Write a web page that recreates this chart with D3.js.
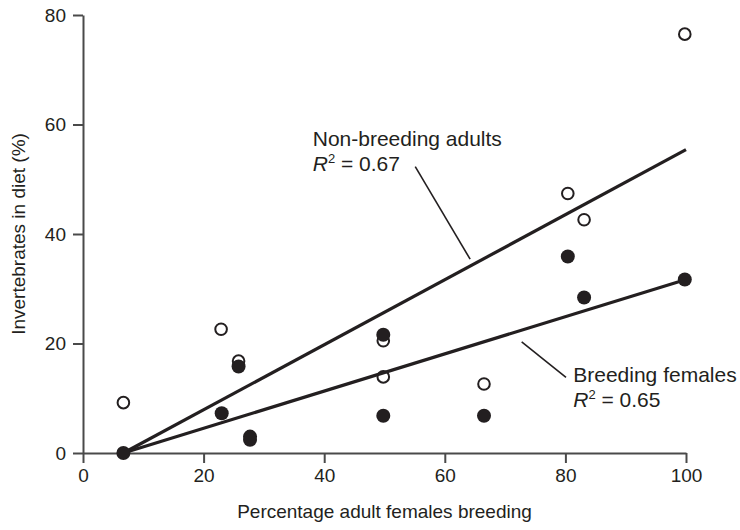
<!DOCTYPE html>
<html>
<head>
<meta charset="utf-8">
<script src="https://cdn.jsdelivr.net/npm/d3@7"></script>
<style>
  body { margin: 0; background: #fff; }
  text { font-family: "Liberation Sans", Arial, sans-serif; fill: #231f20; }
</style>
</head>
<body>
<div id="chart"></div>
<script>
// values
const nonBreedingX = [6.7, 22.9, 25.8, 49.8, 49.8, 66.5, 80.4, 83.1, 99.8]
const nonBreedingY = [9.2, 22.6, 16.8, 20.5, 13.9, 12.6, 47.4, 42.6, 76.5]
const breedingX = [6.7, 23.0, 25.8, 27.7, 27.7, 49.8, 49.8, 66.5, 80.4, 83.1, 99.8]
const breedingY = [0, 7.25, 15.8, 3.0, 2.4, 21.6, 6.8, 6.8, 35.9, 28.4, 31.7]
// regression lines (start and end)
const fitX = [6.7, 100]
const fitNonBreedingY = [0, 55.4]
const fitBreedingY = [0, 31.7]
const xTicks = [0, 20, 40, 60, 80, 100]
const yTicks = [0, 20, 40, 60, 80]

const width = 740, height = 530
const margin = { top: 15, right: 54, bottom: 77, left: 83 }
const ink = "#231f20"

const svg = d3.select("#chart").append("svg")
    .attr("width", width)
    .attr("height", height)

const x = d3.scaleLinear().domain([0, 100]).range([margin.left, width - margin.right])
const y = d3.scaleLinear().domain([0, 80]).range([height - margin.bottom, margin.top])

// axes
const xAxis = svg.append("g")
    .attr("transform", "translate(0," + y(0) + ")")
    .call(d3.axisBottom(x).tickValues(xTicks).tickSize(10).tickSizeOuter(0).tickPadding(6))
const yAxis = svg.append("g")
    .attr("transform", "translate(" + x(0) + ",0)")
    .call(d3.axisLeft(y).tickValues(yTicks).tickSize(10).tickSizeOuter(0).tickPadding(7))

for (const ax of [xAxis, yAxis]) {
    ax.select(".domain").attr("stroke", "#4a4a4a").attr("stroke-width", 2)
    ax.selectAll(".tick line").attr("stroke", "#4a4a4a").attr("stroke-width", 2)
    ax.selectAll(".tick text").attr("font-size", 19).attr("fill", ink)
        .attr("font-family", "Liberation Sans, Arial, sans-serif")
}

svg.append("text")
    .attr("x", (x(0) + x(100)) / 2)
    .attr("y", 518)
    .attr("text-anchor", "middle")
    .attr("font-size", 19)
    .text("Percentage adult females breeding")

svg.append("text")
    .attr("transform", "translate(25," + (y(0) + y(80)) / 2 + ") rotate(-90)")
    .attr("text-anchor", "middle")
    .attr("font-size", 19)
    .text("Invertebrates in diet (%)")

// open circles: non-breeding adults
svg.selectAll(".open").data(nonBreedingX).enter().append("circle")
    .attr("class", "open")
    .attr("cx", d => x(d))
    .attr("cy", (d, i) => y(nonBreedingY[i]))
    .attr("r", 5.8)
    .attr("fill", "#fff")
    .attr("stroke", ink)
    .attr("stroke-width", 2)

// fitted lines
const line = d3.line().x(d => x(d[0])).y(d => y(d[1]))
svg.append("path")
    .attr("d", line(fitX.map((v, i) => [v, fitNonBreedingY[i]])))
    .attr("fill", "none").attr("stroke", ink).attr("stroke-width", 3.2)
svg.append("path")
    .attr("d", line(fitX.map((v, i) => [v, fitBreedingY[i]])))
    .attr("fill", "none").attr("stroke", ink).attr("stroke-width", 3.2)

// filled circles: breeding females
svg.selectAll(".filled").data(breedingX).enter().append("circle")
    .attr("class", "filled")
    .attr("cx", d => x(d))
    .attr("cy", (d, i) => y(breedingY[i]))
    .attr("r", 7)
    .attr("fill", ink)

// labels with leader lines
function label(tx, ty, name, r2, from, to) {
    svg.append("line")
        .attr("x1", x(from[0])).attr("y1", y(from[1]))
        .attr("x2", x(to[0])).attr("y2", y(to[1]))
        .attr("stroke", ink).attr("stroke-width", 1.6)
    svg.append("text")
        .attr("x", x(tx)).attr("y", y(ty))
        .attr("font-size", 21)
        .text(name)
    const t = svg.append("text")
        .attr("x", x(tx)).attr("y", y(ty) + 25)
        .attr("font-size", 21)
    t.append("tspan").attr("font-style", "italic").text("R")
    t.append("tspan").attr("font-size", 13).attr("dy", -8).text("2")
    t.append("tspan").attr("dy", 8).text(" = " + r2)
}

label(38.1, 56.0, "Non-breeding adults", "0.67", [55.1, 52.3], [64.2, 35.4])
label(81.3, 13.0, "Breeding females", "0.65", [72.75, 20.3], [80.1, 13.8])
</script>
</body>
</html>
